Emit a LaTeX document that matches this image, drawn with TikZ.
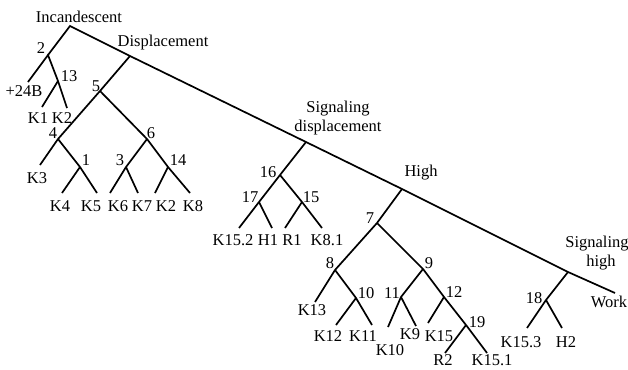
\documentclass[tikz,border=0pt]{standalone}
\usepackage{fontspec}
\setmainfont{Liberation Serif}
\begin{document}
\begin{tikzpicture}[x=1pt,y=-1pt,
  br/.style={line width=1.7pt,line join=miter,line cap=butt},
  lbl/.style={inner sep=0pt,anchor=base,font=\fontsize{16.5}{19}\selectfont}]
\useasboundingbox (0,0) rectangle (628,369);
% junctions and ends
\coordinate (root) at (70,26);
\coordinate (jD) at (130,56);
\coordinate (jS) at (306,142);
\coordinate (jH) at (402,189);
\coordinate (jSH) at (568,272);
\coordinate (wend) at (615,293);
\coordinate (n2) at (48,55);
\coordinate (e24) at (28,82);
\coordinate (n13) at (58,81);
\coordinate (eK1) at (42,107);
\coordinate (eK2a) at (67,108);
\coordinate (n5) at (100,91);
\coordinate (n4) at (58,139);
\coordinate (eK3) at (40,165);
\coordinate (n1) at (80,167);
\coordinate (eK4) at (62,193);
\coordinate (eK5) at (97,193);
\coordinate (n6) at (147,139);
\coordinate (n3) at (126,167);
\coordinate (eK6) at (110,193);
\coordinate (eK7) at (138,193);
\coordinate (n14) at (168,167);
\coordinate (eK2b) at (155,193);
\coordinate (eK8) at (190,193);
\coordinate (n16) at (280,175);
\coordinate (n17) at (259,202);
\coordinate (eK152) at (239,228);
\coordinate (eH1) at (272,228);
\coordinate (n15) at (302,202);
\coordinate (eR1) at (285,228);
\coordinate (eK81) at (322,228);
\coordinate (n7) at (377,223);
\coordinate (n8) at (335,270);
\coordinate (eK13) at (315,302);
\coordinate (n10) at (356,298);
\coordinate (eK12) at (336,325);
\coordinate (eK11) at (372,325);
\coordinate (n9) at (423,269);
\coordinate (n11) at (401,297);
\coordinate (eK10) at (388,327);
\coordinate (eK9) at (416,326);
\coordinate (n12) at (444,297);
\coordinate (eK15) at (428,323);
\coordinate (n19) at (466,325);
\coordinate (eR2) at (445,353);
\coordinate (eK151) at (487,353);
\coordinate (n18) at (546,300);
\coordinate (eK153) at (527,328);
\coordinate (eH2) at (562,328);
% lines
\draw[br] (n2) -- (root) -- (jD) -- (jS) -- (jH) -- (jSH) -- (wend);
\draw[br] (e24) -- (n2) -- (n13) -- (eK2a);
\draw[br] (n13) -- (eK1);
\draw[br] (jD) -- (n5) -- (n4) -- (eK3);
\draw[br] (n4) -- (n1) -- (eK5);
\draw[br] (n1) -- (eK4);
\draw[br] (n5) -- (n6) -- (n14) -- (eK8);
\draw[br] (n14) -- (eK2b);
\draw[br] (n6) -- (n3) -- (eK6);
\draw[br] (n3) -- (eK7);
\draw[br] (jS) -- (n16) -- (n17) -- (eK152);
\draw[br] (n17) -- (eH1);
\draw[br] (n16) -- (n15) -- (eK81);
\draw[br] (n15) -- (eR1);
\draw[br] (jH) -- (n7) -- (n8) -- (eK13);
\draw[br] (n8) -- (n10) -- (eK11);
\draw[br] (n10) -- (eK12);
\draw[br] (n7) -- (n9) -- (n12) -- (n19) -- (eK151);
\draw[br] (n19) -- (eR2);
\draw[br] (n12) -- (eK15);
\draw[br] (n9) -- (n11) -- (eK10);
\draw[br] (n11) -- (eK9);
\draw[br] (jSH) -- (n18) -- (eK153);
\draw[br] (n18) -- (eH2);
% labels
\node[lbl] (tInc) at (79,23) {Incandescent};
\node[lbl] (tDis) at (163,46) {Displacement};
\node[lbl] (tSD) at (338,112) {Signaling};
\node[lbl] (tSD2) at (338,131) {displacement};
\node[lbl] (tHigh) at (421,176) {High};
\node[lbl] (tSH) at (597,247) {Signaling};
\node[lbl] (tSH2) at (601,266) {high};
\node[lbl] (tWork) at (609,307) {Work};
\node[lbl] (l2) at (41,53) {2};
\node[lbl] (l13) at (69,81) {13};
\node[lbl] (l24) at (24,96) {+24B};
\node[lbl] (lK1) at (38,123) {K1};
\node[lbl] (lK2a) at (62,123) {K2};
\node[lbl] (l5) at (96,91) {5};
\node[lbl] (l4) at (53,138) {4};
\node[lbl] (l6) at (151,138) {6};
\node[lbl] (l1) at (86,165) {1};
\node[lbl] (l3) at (120,165) {3};
\node[lbl] (l14) at (178,165) {14};
\node[lbl] (lK3) at (37,183) {K3};
\node[lbl] (lK4) at (60,211) {K4};
\node[lbl] (lK5) at (91,211) {K5};
\node[lbl] (lK6) at (118,211) {K6};
\node[lbl] (lK7) at (142,211) {K7};
\node[lbl] (lK2b) at (166,211) {K2};
\node[lbl] (lK8) at (193,211) {K8};
\node[lbl] (l16) at (268,177) {16};
\node[lbl] (l17) at (250,202) {17};
\node[lbl] (l15) at (311,202) {15};
\node[lbl] (lK152) at (233,245) {K15.2};
\node[lbl] (lH1) at (268,245) {H1};
\node[lbl] (lR1) at (292,245) {R1};
\node[lbl] (lK81) at (327,245) {K8.1};
\node[lbl] (l7) at (370,223) {7};
\node[lbl] (l8) at (330,268) {8};
\node[lbl] (l9) at (429,268) {9};
\node[lbl] (l10) at (366,298) {10};
\node[lbl] (l11) at (392,298) {11};
\node[lbl] (l12) at (454,297) {12};
\node[lbl] (l19) at (477,327) {19};
\node[lbl] (lK13) at (312,315) {K13};
\node[lbl] (lK12) at (328,341) {K12};
\node[lbl] (lK11) at (363,341) {K11};
\node[lbl] (lK9) at (410,339) {K9};
\node[lbl] (lK15) at (439,341) {K15};
\node[lbl] (lK10) at (390,355) {K10};
\node[lbl] (lR2) at (443,365.5) {R2};
\node[lbl] (lK151) at (492,365.5) {K15.1};
\node[lbl] (l18) at (534,303) {18};
\node[lbl] (lK153) at (521,347) {K15.3};
\node[lbl] (lH2) at (566,347) {H2};
\end{tikzpicture}
\end{document}
